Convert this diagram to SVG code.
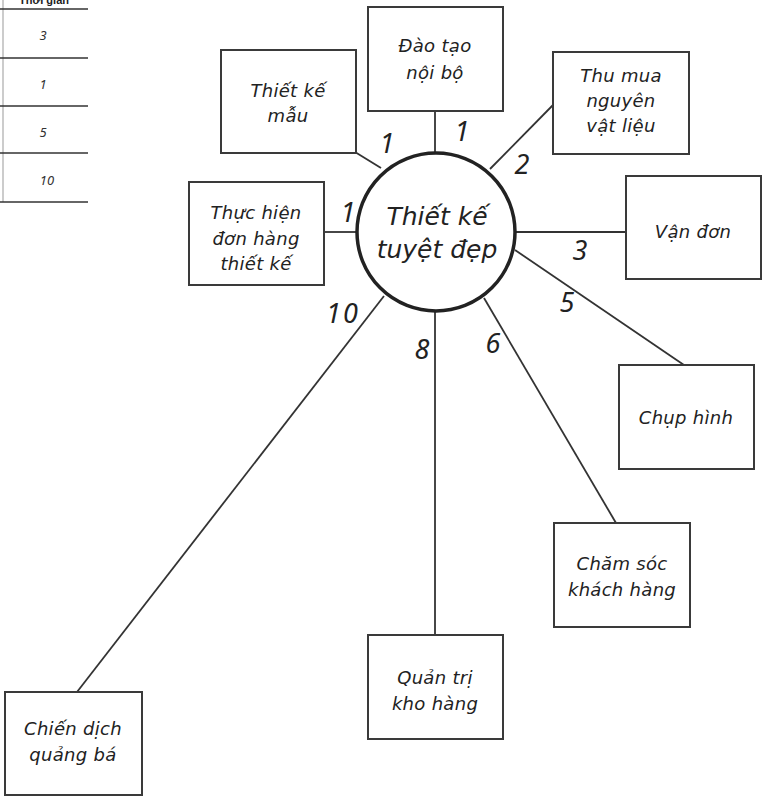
<svg xmlns="http://www.w3.org/2000/svg" width="762" height="796" viewBox="0 0 762 796">
<style>
  .box{fill:#fff;stroke:#3a3a3a;stroke-width:2}
  .t{font-family:"DejaVu Sans","Noto Sans",sans-serif;font-style:italic;font-size:18px;letter-spacing:0.3px;fill:#222;text-anchor:middle}
  .n{font-family:"Noto Sans","DejaVu Sans",sans-serif;font-style:italic;font-size:27px;letter-spacing:2px;fill:#222;text-anchor:middle}
  .c{font-family:"DejaVu Sans","Noto Sans",sans-serif;font-style:italic;font-size:25px;fill:#222;text-anchor:middle}
  .s{font-family:"Noto Sans","DejaVu Sans",sans-serif;font-style:italic;font-size:13px;fill:#333;text-anchor:middle}
  .ln{stroke:#333;stroke-width:1.8;fill:none}
</style>
<rect width="762" height="796" fill="#fff"/>
<g id="table">
  <text x="44" y="4" font-family="Liberation Sans, sans-serif" font-weight="bold" font-size="11" text-anchor="middle" fill="#222">Thời gian</text>
  <line x1="3" y1="0" x2="3" y2="202" stroke="#bbb" stroke-width="1.5"/>
  <g stroke="#333" stroke-width="1.5">
    <line x1="0" y1="9" x2="88" y2="9"/>
    <line x1="0" y1="58" x2="88" y2="58"/>
    <line x1="0" y1="106" x2="88" y2="106"/>
    <line x1="0" y1="153" x2="88" y2="153"/>
    <line x1="0" y1="202" x2="88" y2="202"/>
  </g>
  <text class="s" x="43" y="40">3</text>
  <text class="s" x="43" y="89">1</text>
  <text class="s" x="43" y="137">5</text>
  <text class="s" x="47" y="185">10</text>
</g>
<g id="connectors">
  <line class="ln" x1="435" y1="111" x2="435" y2="153"/>
  <line class="ln" x1="355" y1="152" x2="381" y2="168"/>
  <line class="ln" x1="324" y1="232" x2="356" y2="232"/>
  <line class="ln" x1="553" y1="105" x2="490" y2="169"/>
  <line class="ln" x1="514" y1="232" x2="626" y2="232"/>
  <line class="ln" x1="515" y1="250" x2="684" y2="365"/>
  <line class="ln" x1="484" y1="298" x2="616" y2="523"/>
  <line class="ln" x1="435" y1="311" x2="435" y2="635"/>
  <line class="ln" x1="384" y1="296" x2="77" y2="692"/>
</g>
<g id="labels">
  <text class="n" x="388" y="153">1</text>
  <text class="n" x="463" y="141">1</text>
  <text class="n" x="523" y="174">2</text>
  <text class="n" x="581" y="260">3</text>
  <text class="n" x="568" y="312">5</text>
  <text class="n" x="494" y="353">6</text>
  <text class="n" x="423" y="359">8</text>
  <text class="n" x="343" y="323">10</text>
  <text class="n" x="349" y="222">1</text>
</g>
<g id="center">
  <circle cx="436" cy="232" r="79" fill="#fff" stroke="#222" stroke-width="3.5"/>
  <text class="c" x="437" y="225">Thiết kế</text>
  <text class="c" x="437" y="258">tuyệt đẹp</text>
</g>
<g id="dao-tao">
  <rect class="box" x="368" y="7" width="135" height="104"/>
  <text class="t" x="435" y="52">Đào tạo</text>
  <text class="t" x="435" y="79">nội bộ</text>
</g>
<g id="thiet-ke-mau">
  <rect class="box" x="221" y="50" width="135" height="103"/>
  <text class="t" x="288" y="97">Thiết kế</text>
  <text class="t" x="288" y="122">mẫu</text>
</g>
<g id="thuc-hien">
  <rect class="box" x="189" y="182" width="135" height="103"/>
  <text class="t" x="256" y="219">Thực hiện</text>
  <text class="t" x="256" y="245">đơn hàng</text>
  <text class="t" x="256" y="270">thiết kế</text>
</g>
<g id="thu-mua">
  <rect class="box" x="553" y="52" width="136" height="102"/>
  <text class="t" x="621" y="82">Thu mua</text>
  <text class="t" x="621" y="107">nguyên</text>
  <text class="t" x="621" y="132">vật liệu</text>
</g>
<g id="van-don">
  <rect class="box" x="626" y="176" width="135" height="103"/>
  <text class="t" x="693" y="238">Vận đơn</text>
</g>
<g id="chup-hinh">
  <rect class="box" x="619" y="365" width="135" height="104"/>
  <text class="t" x="686" y="424">Chụp hình</text>
</g>
<g id="cham-soc">
  <rect class="box" x="554" y="523" width="136" height="104"/>
  <text class="t" x="622" y="570">Chăm sóc</text>
  <text class="t" x="622" y="596">khách hàng</text>
</g>
<g id="quan-tri">
  <rect class="box" x="368" y="635" width="135" height="104"/>
  <text class="t" x="435" y="684">Quản trị</text>
  <text class="t" x="435" y="710">kho hàng</text>
</g>
<g id="chien-dich">
  <rect class="box" x="5" y="692" width="137" height="103"/>
  <text class="t" x="73" y="735">Chiến dịch</text>
  <text class="t" x="73" y="761">quảng bá</text>
</g>
</svg>
